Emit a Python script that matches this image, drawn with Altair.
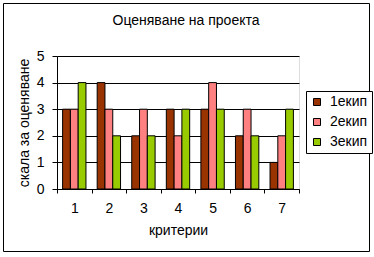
import altair as alt
import pandas as pd

criteria = ["1", "2", "3", "4", "5", "6", "7"]
teams = ["1екип", "2екип", "3екип"]
team1 = [3, 4, 2, 3, 3, 2, 1]
team2 = [3, 3, 3, 2, 4, 3, 2]
team3 = [4, 2, 2, 3, 3, 2, 3]
colors = ["#993300", "#FF8080", "#99CC00"]
y_ticks = [0, 1, 2, 3, 4, 5]

rows = []
for team, vals in zip(teams, [team1, team2, team3]):
    for c, v in zip(criteria, vals):
        rows.append({"crit": c, "team": team, "value": v})
df = pd.DataFrame(rows)

FONT = "Liberation Sans"

bars = alt.Chart(df).mark_bar(stroke="black", strokeWidth=1).encode(
    x=alt.X("crit:N", sort=criteria, title="критерии",
            scale=alt.Scale(paddingInner=0, paddingOuter=0),
            axis=alt.Axis(labelAngle=0, tickBand="extent", grid=False,
                          domainColor="black", tickColor="black", tickSize=4,
                          labelPadding=8, labelColor="black", labelFontSize=14,
                          labelFont=FONT, titleFont=FONT, titleFontSize=14,
                          titleFontWeight="normal", titleColor="black", titlePadding=8)),
    xOffset=alt.XOffset("team:N", sort=teams,
                        scale=alt.Scale(paddingInner=0, paddingOuter=0.72)),
    y=alt.Y("value:Q", title="скала за оценяване",
            scale=alt.Scale(domain=[0, 5], nice=False),
            axis=alt.Axis(values=y_ticks, grid=True, gridColor="black", gridOpacity=1,
                          domainColor="black", tickColor="black", tickSize=5,
                          labelPadding=8, labelColor="black", labelFontSize=14,
                          labelFont=FONT, titleFont=FONT, titleFontSize=14,
                          titleFontWeight="normal", titleColor="black", titlePadding=5)),
    color=alt.Color("team:N", sort=teams,
                    scale=alt.Scale(domain=teams, range=colors),
                    legend=alt.Legend(title=None, orient="none", legendX=249, legendY=35,
                                      strokeColor="black", fillColor="white", padding=4,
                                      symbolType="square", symbolSize=49,
                                      symbolStrokeColor="black", symbolStrokeWidth=1,
                                      labelFontSize=14, labelFont=FONT, labelColor="black",
                                      labelOffset=6, rowPadding=6)),
)

frame = alt.Chart(pd.DataFrame({"a": [0]})).mark_rect(
    fill="white", fillOpacity=0, stroke="black", strokeWidth=1, clip=False
).encode(
    x=alt.value(-53.5), x2=alt.value(312.5), y=alt.value(-52.5), y2=alt.value(195.5)
)

chart = alt.layer(bars, frame).properties(
    width=242, height=133,
    autosize=alt.AutoSizeParams(type="none"),
    padding={"left": 57, "top": 56, "right": 75, "bottom": 68},
    title=alt.TitleParams("Оценяване на проекта", font=FONT, fontSize=14,
                          fontWeight="normal", color="black", offset=-25, dx=8),
).configure_view(strokeWidth=0).configure(background="white")

chart.save("out.html", embed_options={"renderer": "svg", "actions": False})
